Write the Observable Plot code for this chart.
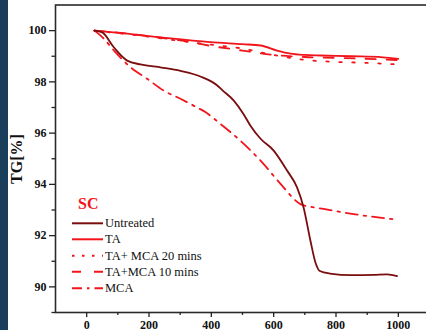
<!DOCTYPE html>
<html><head><meta charset="utf-8">
<script src="https://cdn.jsdelivr.net/npm/d3@7"></script>
<script src="https://cdn.jsdelivr.net/npm/@observablehq/plot@0.6"></script>
<style>
html,body{margin:0;padding:0;background:#fff;overflow:hidden}
#wrap{position:relative;width:426px;height:330px;overflow:hidden}
#strip{position:absolute;left:0;top:0;width:8px;height:330px;background:#1b3d5c;z-index:2}
#wrap svg{position:absolute;left:0;top:0}
#wrap svg text{font-family:"Liberation Serif","Times New Roman",serif}
</style></head><body><div id="wrap"><div id="strip"></div></div>
<script>
const SERIF = "Liberation Serif, Times New Roman, serif";
// Series names
const seriesNames = ["Untreated", "TA", "TA+ MCA 20 mins", "TA+MCA 10 mins", "MCA"];

// Untreated
const untreatedT = [25,50,87,130,173,240,301,365,419,435,472,503,525,558,600,643,675,696,718,734,748,780,850,920,964,996];
const untreatedY = [100,99.93,99.35,98.83,98.68,98.56,98.43,98.21,97.86,97.68,97.27,96.75,96.30,95.78,95.32,94.54,93.88,93.10,91.80,90.95,90.62,90.52,90.46,90.47,90.49,90.42];
// TA
const taT = [25,130,250,397,500,558,611,654,700,750,850,950,1000];
const taY = [100,99.88,99.72,99.55,99.47,99.42,99.22,99.10,99.05,99.03,99.00,98.96,98.90];
// TA+ MCA 20 mins
const ta20T = [25,100,200,300,400,500,600,700,800,900,1000];
const ta20Y = [100,99.90,99.76,99.60,99.45,99.30,99.05,98.86,98.78,98.74,98.68];
// TA+MCA 10 mins
const ta10T = [25,100,200,300,400,500,600,700,800,900,1000];
const ta10Y = [100,99.92,99.78,99.62,99.40,99.22,99.05,98.97,98.94,98.90,98.85];
// MCA
const mcaT = [25,50,92,141,194,247,301,354,381,429,499,563,622,686,720,760,868,996];
const mcaY = [100,99.75,99.16,98.57,98.12,97.66,97.34,97.00,96.82,96.36,95.64,94.86,94.02,93.23,93.12,93.04,92.82,92.62];

const xTicks = [0,200,400,600,800,1000];
const xMinor = [100,300,500,700,900];
const yTicks = [90,92,94,96,98,100];
const yMinor = [89,91,93,95,97,99];

const styles = {
  "Untreated": {stroke: "#7a0d0d", dash: null, legendDash: null},
  "TA": {stroke: "#f2141b", dash: null, legendDash: null},
  "TA+ MCA 20 mins": {stroke: "#f2141b", dash: "2.5,10.5", legendDash: "2.5,7.5"},
  "TA+MCA 10 mins": {stroke: "#f2141b", dash: "10,11", legendDash: "9,13"},
  "MCA": {stroke: "#f2141b", dash: "12,6,2.5,6", legendDash: "10,5,2.5,5"}
};

const seriesT = [untreatedT, taT, ta20T, ta10T, mcaT];
const seriesY = [untreatedY, taY, ta20Y, ta10Y, mcaY];
const tables = seriesNames.map((n, i) => seriesT[i].map((t, j) => ({t, v: seriesY[i][j], s: n})));

const lineMarks = tables.slice().reverse().map(tab => {
  const st = styles[tab[0].s];
  return Plot.line(tab, {x: "t", y: "v", stroke: st.stroke, strokeWidth: 1.8,
    strokeDasharray: st.dash, curve: "monotone-x"});
});

const axisFont = {fontFamily: SERIF, fontSize: 12, fontWeight: "bold"};
const chart = Plot.plot({
  width: 426, height: 330,
  marginLeft: 55, marginRight: -3, marginTop: 4.5, marginBottom: 18,
  x: {domain: [-100, 1100]},
  y: {domain: [89, 101]},
  style: {fontFamily: SERIF, fontSize: "12px", fontWeight: "bold", background: "transparent", color: "#111"},
  marks: [
    ...lineMarks,
    Plot.frame({stroke: "#2a2a2a", strokeWidth: 1.6}),
    Plot.axisX({ticks: xTicks, tickFormat: d => String(d), tickSize: 5, tickPadding: 3, label: null, stroke: "#222", strokeWidth: 1.3, ...axisFont}),
    Plot.axisX({ticks: xMinor, tickSize: 3, text: null, label: null, stroke: "#222", strokeWidth: 1.3}),
    Plot.axisY({ticks: yTicks, tickFormat: d => String(d), tickSize: 6, tickPadding: 3, label: null, stroke: "#222", strokeWidth: 1.3, ...axisFont}),
    Plot.axisY({ticks: yMinor, tickSize: 3.5, text: null, label: null, stroke: "#222", strokeWidth: 1.3})
  ]
});
document.getElementById("wrap").appendChild(chart);

const svg = d3.select(chart);
// y-axis title
svg.append("text").attr("transform", "translate(21.5,159) rotate(-90)")
  .attr("text-anchor", "middle").attr("font-size", 16).attr("font-weight", "bold")
  .attr("font-family", SERIF).attr("fill", "#111").text("TG[%]");
// SC label
svg.append("text").attr("x", 78).attr("y", 208.5).attr("text-anchor", "start")
  .attr("font-size", 16).attr("font-weight", "bold").attr("font-family", SERIF)
  .attr("fill", "#f2141b").text("SC");
// legend
const rowsY = [223.3, 239.3, 255.7, 271.7, 288.3];
seriesNames.forEach((n, i) => {
  const st = styles[n];
  const g = svg.append("g");
  g.append("line").attr("x1", 72).attr("x2", 103).attr("y1", rowsY[i]).attr("y2", rowsY[i])
    .attr("stroke", st.stroke).attr("stroke-width", 2)
    .attr("stroke-dasharray", st.legendDash);
  g.append("text").attr("x", 105).attr("y", rowsY[i] + 4).attr("text-anchor", "start")
    .attr("font-size", 12.5).attr("font-weight", "normal").attr("font-family", SERIF)
    .attr("fill", "#111").text(n);
});
</script></body></html>
